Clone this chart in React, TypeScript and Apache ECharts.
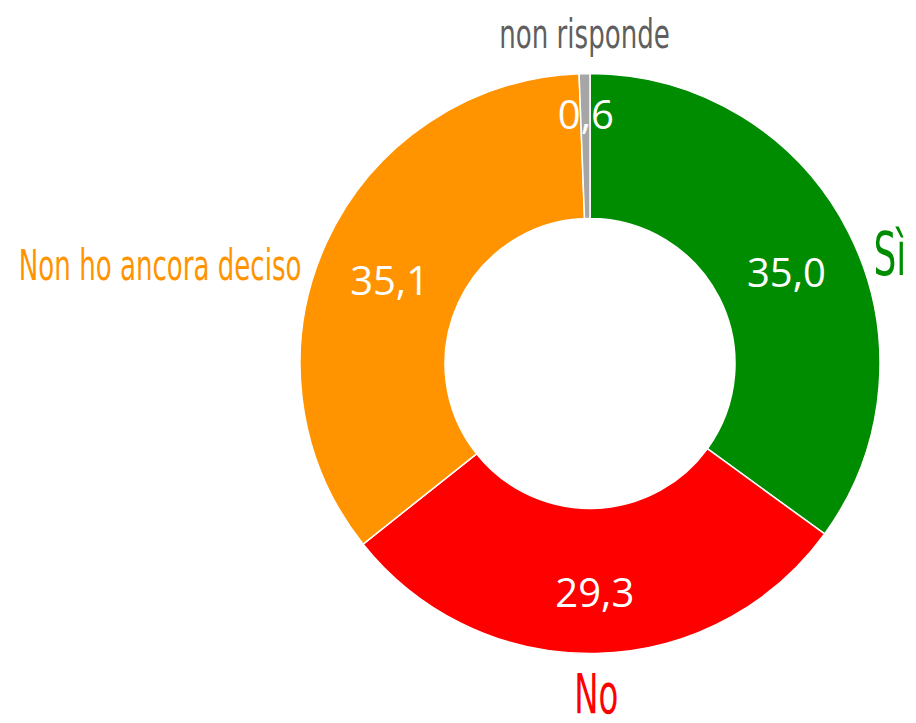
import React, { useEffect, useRef } from "react";
import * as echarts from "echarts";

const categories = ["Sì", "No", "Non ho ancora deciso", "non risponde"];
const values = [35.0, 29.3, 35.1, 0.6];
const sliceColors = ["#008c00", "#ff0000", "#ff9400", "#a6a6a6"];
const outerTextColors = ["#008c00", "#ff0000", "#ff9400", "#5f5f5f"];
const outerFontSizes = [40, 36, 29, 29];
const outerStretch = [1.5, 1.55, 1.45, 1.42];

const fmt = (v: number) => v.toFixed(1).replace(".", ",");

export default function App() {
  const ref = useRef<HTMLDivElement>(null);
  useEffect(() => {
    document.body.style.margin = "0";
    if (!ref.current) return;
    const chart = echarts.init(ref.current, null, { renderer: "svg" });
    const center = [590, 363.5];
    const radius = [145, 290];
    const outerFont = '"DejaVu Sans Condensed", "DejaVu Sans", sans-serif';
    chart.setOption({
      animation: false,
      backgroundColor: "#ffffff",
      series: [
        {
          type: "pie",
          center,
          radius,
          startAngle: 90,
          clockwise: true,
          itemStyle: { borderColor: "#ffffff", borderWidth: 1.5 },
          label: {
            show: true,
            position: "inside",
            color: "#ffffff",
            fontSize: 40,
            fontFamily: '"Open Sans", sans-serif',
            offset: [0, 8],
            formatter: (p: any) => fmt(p.value),
          },
          labelLine: { show: false },
          emphasis: { disabled: true },
          data: categories.map((name, i) => ({
            name,
            value: values[i],
            itemStyle: { color: sliceColors[i] },
            ...(i === 3 ? { label: { offset: [0, -30] } } : {}),
          })),
        },
      ],
    });

    // Outer category labels, placed from the pie's own computed layout
    const data = (chart as any).getModel().getSeriesByIndex(0).getData();
    const elements = categories.map((name, i) => {
      const l = data.getItemLayout(i);
      const mid = (l.startAngle + l.endAngle) / 2;
      const dx = Math.cos(mid);
      const dy = Math.sin(mid);
      const px = l.cx + l.r * dx;
      const py = l.cy + l.r * dy;
      let x: number, y: number, align: string;
      if (Math.abs(dx) < 0.3) {
        x = px;
        y = py + Math.sign(dy) * 40;
        align = "center";
      } else {
        x = px + Math.sign(dx) * 25;
        y = py + 23;
        align = dx > 0 ? "left" : "right";
      }
      return {
        type: "text",
        x,
        y,
        scaleX: 1,
        scaleY: outerStretch[i],
        silent: true,
        style: {
          text: name,
          fill: outerTextColors[i],
          fontSize: outerFontSizes[i],
          fontFamily: outerFont,
          textAlign: align,
          textVerticalAlign: "middle",
        },
      };
    });
    chart.setOption({ graphic: { elements } });
    return () => chart.dispose();
  }, []);
  return <div ref={ref} style={{ width: 916, height: 723 }} />;
}
